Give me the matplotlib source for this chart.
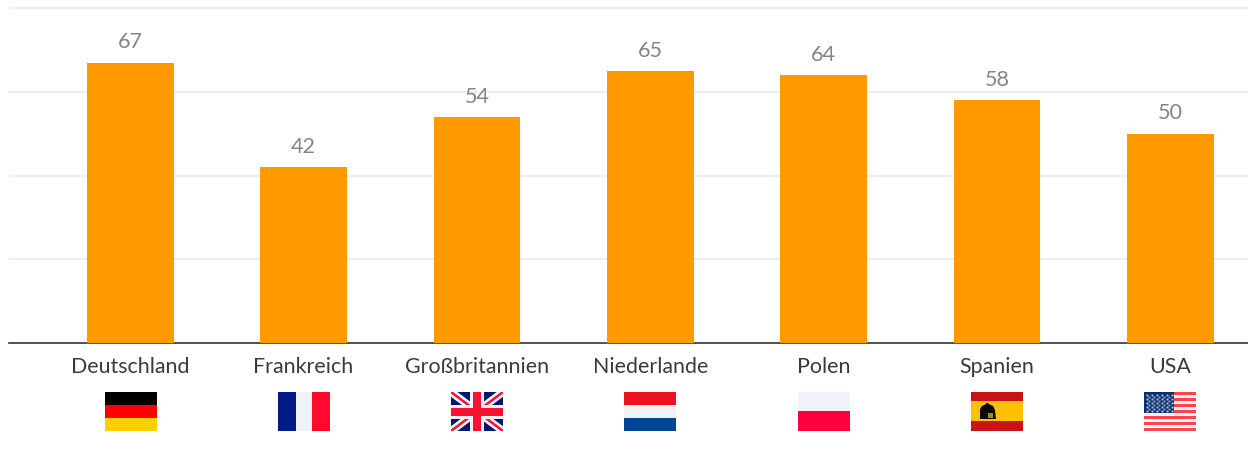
##bar chart by country, with little flags drawn under the axis

import numpy as np
import matplotlib
matplotlib.use('Agg')
import matplotlib.pyplot as plt
from matplotlib.patches import Rectangle, Polygon

countries = ['Deutschland', 'Frankreich', 'Großbritannien', 'Niederlande',
             'Polen', 'Spanien', 'USA']
values = [67, 42, 54, 65, 64, 58, 50]
grid_values = [20, 40, 60, 80]

plt.rcParams['font.family'] = ['Lato', 'DejaVu Sans']

W, H = 1248, 459
fig = plt.figure(figsize=(W/100, H/100), dpi=100)
ax = fig.add_axes([9/W, (H-343)/H, (W-9)/W, 343/H])

##the bars
x = np.arange(len(countries))
ax.bar(x, values, width=0.5, color='#ff9900', zorder=3)
ax.set_xlim(-0.6993, 6.4488)
ax.set_ylim(0, 81.96)

##value labels above the bars
for i, v in zip(x, values):
    ax.annotate(str(v), (i, v), xytext=(0, 10.4), textcoords='offset points',
                ha='center', va='baseline', fontsize=15.6, color='#858585', zorder=4)

##grid and axis line
ax.set_yticks(grid_values)
ax.set_yticklabels([])
ax.grid(axis='y', color='#eeeeee', linewidth=1.5, zorder=0)
ax.tick_params(axis='y', length=0)
for s in ['top', 'right', 'left']:
    ax.spines[s].set_visible(False)
ax.spines['bottom'].set_color('#333333')
ax.spines['bottom'].set_linewidth(1.2)
ax.set_xticks(x)
ax.set_xticklabels(countries, fontsize=15.4, color='#3a3a3a')
ax.tick_params(axis='x', length=0, pad=10.4)

##overlay in pixel coordinates for the flags
ov = fig.add_axes([0, 0, 1, 1])
ov.set_xlim(0, W)
ov.set_ylim(H, 0)
ov.axis('off')
ov.patch.set_alpha(0)

FW, FH = 52, 39
FY = 392


def rect(x0, y0, w, h, color, **kw):
    r = Rectangle((x0, y0), w, h, facecolor=color, edgecolor='none', **kw)
    ov.add_patch(r)
    return r


def hstripes(x0, colors, fracs):
    y = FY
    for c, f in zip(colors, fracs):
        rect(x0, y, FW, FH*f, c)
        y += FH*f


def flag_germany(x0):
    hstripes(x0, ['#000000', '#ff0000', '#ffd000'], [1/3, 1/3, 1/3])


def flag_france(x0):
    rect(x0, FY, 18, FH, '#001b87')
    rect(x0+18, FY, 16, FH, '#eff2f6')
    rect(x0+34, FY, 18, FH, '#ff0a2e')


def flag_uk(x0):
    clip = rect(x0, FY, FW, FH, '#00176f')
    ##white and red diagonals, both cut to the flag
    for pts in [[(x0, FY), (x0+FW, FY+FH)], [(x0, FY+FH), (x0+FW, FY)]]:
        l, = ov.plot(*zip(*pts), color='#f2f2f6', linewidth=5.5, solid_capstyle='butt', zorder=2)
        l.set_clip_path(clip)
        l, = ov.plot(*zip(*pts), color='#ff1033', linewidth=1.8, solid_capstyle='butt', zorder=2)
        l.set_clip_path(clip)
    ##the straight cross goes on top
    rect(x0+FW/2-7, FY, 14, FH, '#f2f2f6', zorder=3)
    rect(x0, FY+FH/2-7, FW, 14, '#f2f2f6', zorder=3)
    rect(x0+FW/2-4, FY, 8, FH, '#ff1033', zorder=4)
    rect(x0, FY+FH/2-4, FW, 8, '#ff1033', zorder=4)


def flag_netherlands(x0):
    hstripes(x0, ['#ee1122', '#eff2f6', '#004494'], [1/3, 1/3, 1/3])


def flag_poland(x0):
    hstripes(x0, ['#eff2f6', '#ff003c'], [0.49, 0.51])


def flag_spain(x0):
    hstripes(x0, ['#c81418', '#ffc000', '#c81418'], [0.23, 0.51, 0.26])
    ##the coat of arms, just a dark blob
    ov.add_patch(Polygon([(x0+9, FY+17), (x0+11, FY+14), (x0+15, FY+12), (x0+16, FY+10.5),
                          (x0+18, FY+12), (x0+22, FY+14), (x0+24, FY+18), (x0+25, FY+27),
                          (x0+9, FY+27)],
                         facecolor='#0a0a0a', edgecolor='none', zorder=2))
    rect(x0+17, FY+21, 5, 4.5, '#a08a10', zorder=3)


def flag_usa(x0):
    rect(x0, FY, FW, FH, '#f0f2f6')
    for i in range(0, 13, 2):
        rect(x0, FY+i*FH/13, FW, FH/13, '#ff4450')
    rect(x0, FY, 30, FH*7/13, '#0a2f6e', zorder=2)
    for r in range(5):
        for c in range(6):
            ov.plot(x0+2.5+c*5, FY+2.5+r*4.2, 's', color='#b4c2dc', markersize=1.4,
                    markeredgewidth=0, zorder=3)
    for r in range(4):
        for c in range(5):
            ov.plot(x0+5+c*5, FY+4.6+r*4.2, 's', color='#90a4c8', markersize=1.4,
                    markeredgewidth=0, zorder=3)


flag_funcs = [flag_germany, flag_france, flag_uk, flag_netherlands,
              flag_poland, flag_spain, flag_usa]
flag_x = [105, 278, 451, 624, 798, 971, 1144]
for f, x0 in zip(flag_funcs, flag_x):
    f(x0)

fig.savefig('out.png', dpi=100)
